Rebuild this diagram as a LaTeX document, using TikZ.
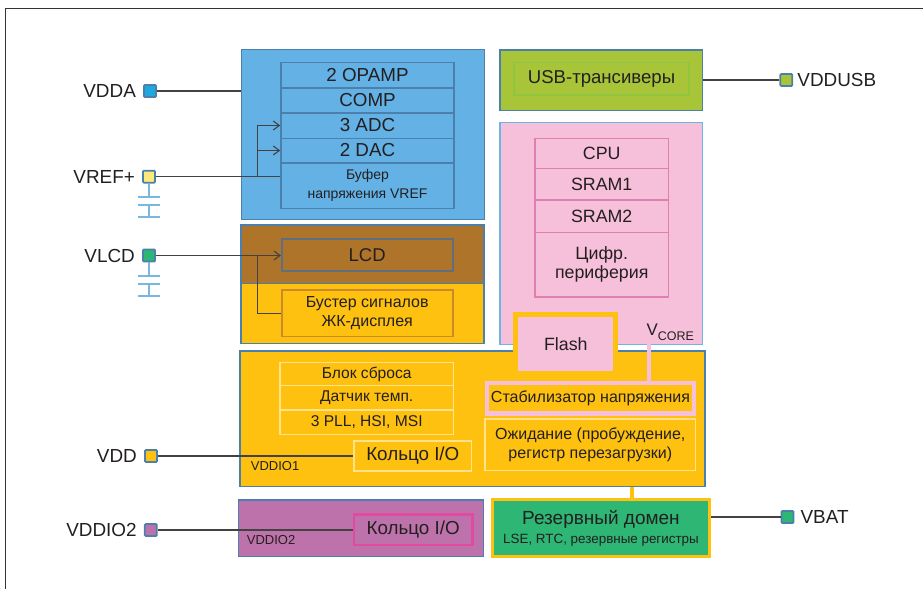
\documentclass[tikz,border=0pt]{standalone}
\usepackage{fontspec}
\setmainfont{Liberation Sans}
\usetikzlibrary{positioning,arrows.meta}

\definecolor{ink}{HTML}{231F20}
\definecolor{frameblue}{HTML}{4B80AC}
\definecolor{coreblue}{HTML}{6CB5E5}
\definecolor{anablue}{HTML}{63B1E5}
\definecolor{vddacyan}{HTML}{1EA8E0}
\definecolor{refyellow}{HTML}{FCE97A}
\definecolor{capblue}{HTML}{7AB6E2}
\definecolor{lcdbrown}{HTML}{AE7429}
\definecolor{slate}{HTML}{5F6F80}
\definecolor{boostbrd}{HTML}{C98A2E}
\definecolor{domyellow}{HTML}{FEC10F}
\definecolor{paleyellow}{HTML}{FFE28A}
\definecolor{usbgreen}{HTML}{A8C539}
\definecolor{usbinner}{HTML}{8EC640}
\definecolor{corepink}{HTML}{F7C0DA}
\definecolor{rowpink}{HTML}{E07FB2}
\definecolor{bkgreen}{HTML}{2DB674}
\definecolor{io2mauve}{HTML}{BE72AB}
\definecolor{ringmag}{HTML}{E04B9F}

\newcommand\sz[2]{\fontsize{#1}{#2}\selectfont}

\tikzset{
  blk/.style={draw=frameblue, line width=1.6pt, inner sep=0pt},
  row/.style={draw, line width=1.6pt, inner sep=0pt, align=center, text=ink},
  pin/.style={draw=frameblue, line width=1.8pt, minimum size=12pt, inner sep=0pt, rounded corners=1pt},
  pinlabel/.style={font=\sz{18.9}{21}, text=ink, inner sep=0pt},
  wire/.style={draw=ink!85, line width=1.1pt},
  capline/.style={draw=capblue, line width=1.4pt},
}

\begin{document}
\begin{tikzpicture}[x=1pt,y=-1pt,>={Straight Barb[length=6pt,width=9pt]}]
  \useasboundingbox (0,0) rectangle (923,589);
  % frame
  \draw[gray!40!black, line width=1pt] (923,8.7) -| (5.3,589);

  % analog domain
  \node[blk, fill=anablue, minimum width=243pt, minimum height=170pt] (ana) at (363,134.5) {};
  \node[row, draw=frameblue, fill=anablue, minimum width=173pt, minimum height=25.4pt, font=\sz{18.8}{21}] (opamp) at (367.5,75) {2 OPAMP};
  \node[row, draw=frameblue, fill=anablue, minimum width=173pt, minimum height=25pt, font=\sz{18.8}{21}] (comp) at (367.5,100.2) {COMP};
  \node[row, draw=frameblue, fill=anablue, minimum width=173pt, minimum height=25.6pt, font=\sz{18.8}{21}] (adc) at (367.5,125.5) {3 ADC};
  \node[row, draw=frameblue, fill=anablue, minimum width=173pt, minimum height=24.4pt, font=\sz{18.8}{21}] (dac) at (367.5,150.5) {2 DAC};
  \node[row, draw=frameblue, fill=anablue, minimum width=173pt, minimum height=45.6pt, font=\sz{14}{18.3}] (buf) at (367.5,185.5) {Буфер\\напряжения VREF};

  % LCD domain
  \node[blk, fill=lcdbrown, minimum width=243.3pt, minimum height=58.3pt] (lcdtop) at (362.4,254.2) {};
  \node[blk, fill=domyellow, minimum width=243.3pt, minimum height=60pt] (lcdbot) at (362.4,313.3) {};
  \node[row, draw=slate, fill=lcdbrown, minimum width=171pt, minimum height=32pt, font=\sz{18.5}{21}] (lcd) at (367.2,255) {LCD};
  \node[row, draw=boostbrd, fill=domyellow, minimum width=171pt, minimum height=46.7pt, font=\sz{16}{19}] (boost) at (367.2,313.3) {Бустер сигналов\\ЖК-дисплея};

  % USB
  \node[blk, fill=usbgreen, minimum width=202.3pt, minimum height=60.7pt] (usb) at (601.2,80.3) {};
  \node[row, draw=usbinner, fill=usbgreen, minimum width=175pt, minimum height=32.3pt, font=\sz{18.6}{21}] (usbx) at (601.5,78.8) {USB-трансиверы};

  % core domain
  \node[blk, draw=coreblue, fill=corepink, minimum width=202.7pt, minimum height=222pt] (core) at (601.3,233.3) {};
  \node[row, draw=rowpink, fill=corepink, minimum width=133.3pt, minimum height=30pt, font=\sz{17.8}{20}] (cpu) at (601.7,153.3) {CPU};
  \node[row, draw=rowpink, fill=corepink, minimum width=133.3pt, minimum height=31.7pt, font=\sz{17.8}{20}] (sram1) at (601.7,184.2) {SRAM1};
  \node[row, draw=rowpink, fill=corepink, minimum width=133.3pt, minimum height=32.3pt, font=\sz{17.8}{20}] (sram2) at (601.7,216.2) {SRAM2};
  \node[row, draw=rowpink, fill=corepink, minimum width=133.3pt, minimum height=64.4pt, font=\sz{17.8}{18.4}] (periph) at (601.7,264.5) {Цифр.\\периферия};
  \node[anchor=base west, inner sep=0pt, text=ink, font=\sz{16.8}{20}] (vcore) at (646.5,335.3) {V\raisebox{-5pt}{\sz{12.5}{14}CORE}};

  % VDD domain
  \node[blk, fill=domyellow, minimum width=465pt, minimum height=135.7pt] (main) at (472.5,418.8) {};
  \node[row, draw=paleyellow, fill=domyellow, minimum width=173.3pt, minimum height=23.4pt, font=\sz{15.6}{18}] (rst) at (366.7,374) {Блок сброса};
  \node[row, draw=paleyellow, fill=domyellow, minimum width=173.3pt, minimum height=24.3pt, font=\sz{15.6}{18}] (temp) at (366.7,397.8) {Датчик темп.};
  \node[row, draw=paleyellow, fill=domyellow, minimum width=173.3pt, minimum height=24.3pt, font=\sz{15.6}{18}] (pll) at (366.7,422.2) {3 PLL, HSI, MSI};
  \node[row, draw=paleyellow, fill=domyellow, minimum width=117.7pt, minimum height=30pt, font=\sz{18.8}{21}] (ring1) at (412.8,456) {Кольцо I/O};
  \node[anchor=west, inner sep=0pt, text=ink, font=\sz{13}{15}] (io1) at (250.7,466.3) {VDDIO1};
  \node[row, draw=paleyellow, fill=domyellow, minimum width=210.7pt, minimum height=51.7pt, font=\sz{16}{18.3}] (wait) at (590.3,444.8) {Ожидание (пробуждение,\\регистр перезагрузки)};

  % core supply from the regulator
  \coordinate (vc) at (649,344.3);
  \draw[corepink, line width=4pt] (vc) -- (vc |- 0,383);
  \node[row, draw=corepink, line width=4.5pt, fill=domyellow, minimum width=207.4pt, minimum height=30.5pt, font=\sz{16}{19}] (stab) at (590.5,398.4) {Стабилизатор напряжения};
  \node[row, draw=domyellow, line width=5pt, fill=corepink, minimum width=100pt, minimum height=58.7pt, font=\sz{17.8}{20}] (flash) at (565.8,344.2) {Flash};

  % backup domain
  \coordinate (bk) at (632,486.7);
  \draw[domyellow, line width=3.5pt] (bk) -- (bk |- 0,500);
  \node[row, draw=domyellow, line width=2.5pt, fill=bkgreen, minimum width=216.6pt, minimum height=57pt, font=\sz{13.4}{18.4}] (backup) at (601,528.2) {{\sz{19}{18.4}Резервный домен}\\LSE, RTC, резервные регистры};

  % VDDIO2 domain
  \node[blk, fill=io2mauve, minimum width=245pt, minimum height=56.7pt] (io2) at (360.8,528.3) {};
  \node[row, draw=ringmag, line width=2.5pt, fill=io2mauve, minimum width=118.3pt, minimum height=30.7pt, font=\sz{18.8}{21}] (ring2) at (413.2,529.7) {Кольцо I/O};
  \node[anchor=west, inner sep=0pt, text=ink, font=\sz{13}{15}] (io2l) at (246.7,540.3) {VDDIO2};

  % supply pins
  \node[pin, fill=vddacyan] (vdda) at (150,91) {};
  \node[pin, fill=refyellow] (vref) at (149,176.7) {};
  \node[pin, fill=bkgreen] (vlcd) at (149,255.5) {};
  \node[pin, fill=domyellow] (vdd) at (151,456) {};
  \node[pin, fill=io2mauve] (vddio2) at (150.8,530) {};
  \node[pin, fill=usbgreen] (vddusb) at (786.3,80) {};
  \node[pin, fill=bkgreen] (vbat) at (787.5,517) {};
  \node[pinlabel, left=7pt of vdda] (vddal) {VDDA};
  \node[pinlabel, left=7pt of vref] (vrefl) {VREF+};
  \node[pinlabel, left=7pt of vlcd] (vlcdl) {VLCD};
  \node[pinlabel, left=7pt of vdd] (vddl) {VDD};
  \node[pinlabel, left=7pt of vddio2] (vddio2l) {VDDIO2};
  \node[pinlabel, right=4pt of vddusb] (vddusbl) {VDDUSB};
  \node[pinlabel, right=6pt of vbat] (vbatl) {VBAT};

  % decoupling capacitors
  \foreach \p in {vref,vlcd}
    \draw[capline] (\p.south) -- ++(0,13.5) ++(-11,0) -- ++(22,0)
      ++(-22,8) -- ++(22,0) ++(-11,0) -- ++(0,12) ++(-11,0) -- ++(22,0);

  % wiring
  \coordinate (vj) at (257.7,176.7);
  \coordinate (lj) at (257.7,255.5);
  \draw[wire] (vdda) -- (vdda -| ana.west);
  \draw[wire] (vref) -- (vref -| buf.west);
  \draw[wire,->] (vj) |- (adc.west);
  \draw[wire,->] (vj |- dac.west) -- (dac.west);
  \draw[wire,->] (vlcd) -- (vlcd -| lcd.west);
  \draw[wire] (lj) |- (boost.west);
  \draw[wire] (vddusb) -- (vddusb -| usb.east);
  \draw[wire] (vdd) -- (vdd -| ring1.west);
  \draw[wire] (vddio2) -- (vddio2 -| ring2.west);
  \draw[wire] (vbat) -- (vbat -| backup.east);
\end{tikzpicture}
\end{document}
